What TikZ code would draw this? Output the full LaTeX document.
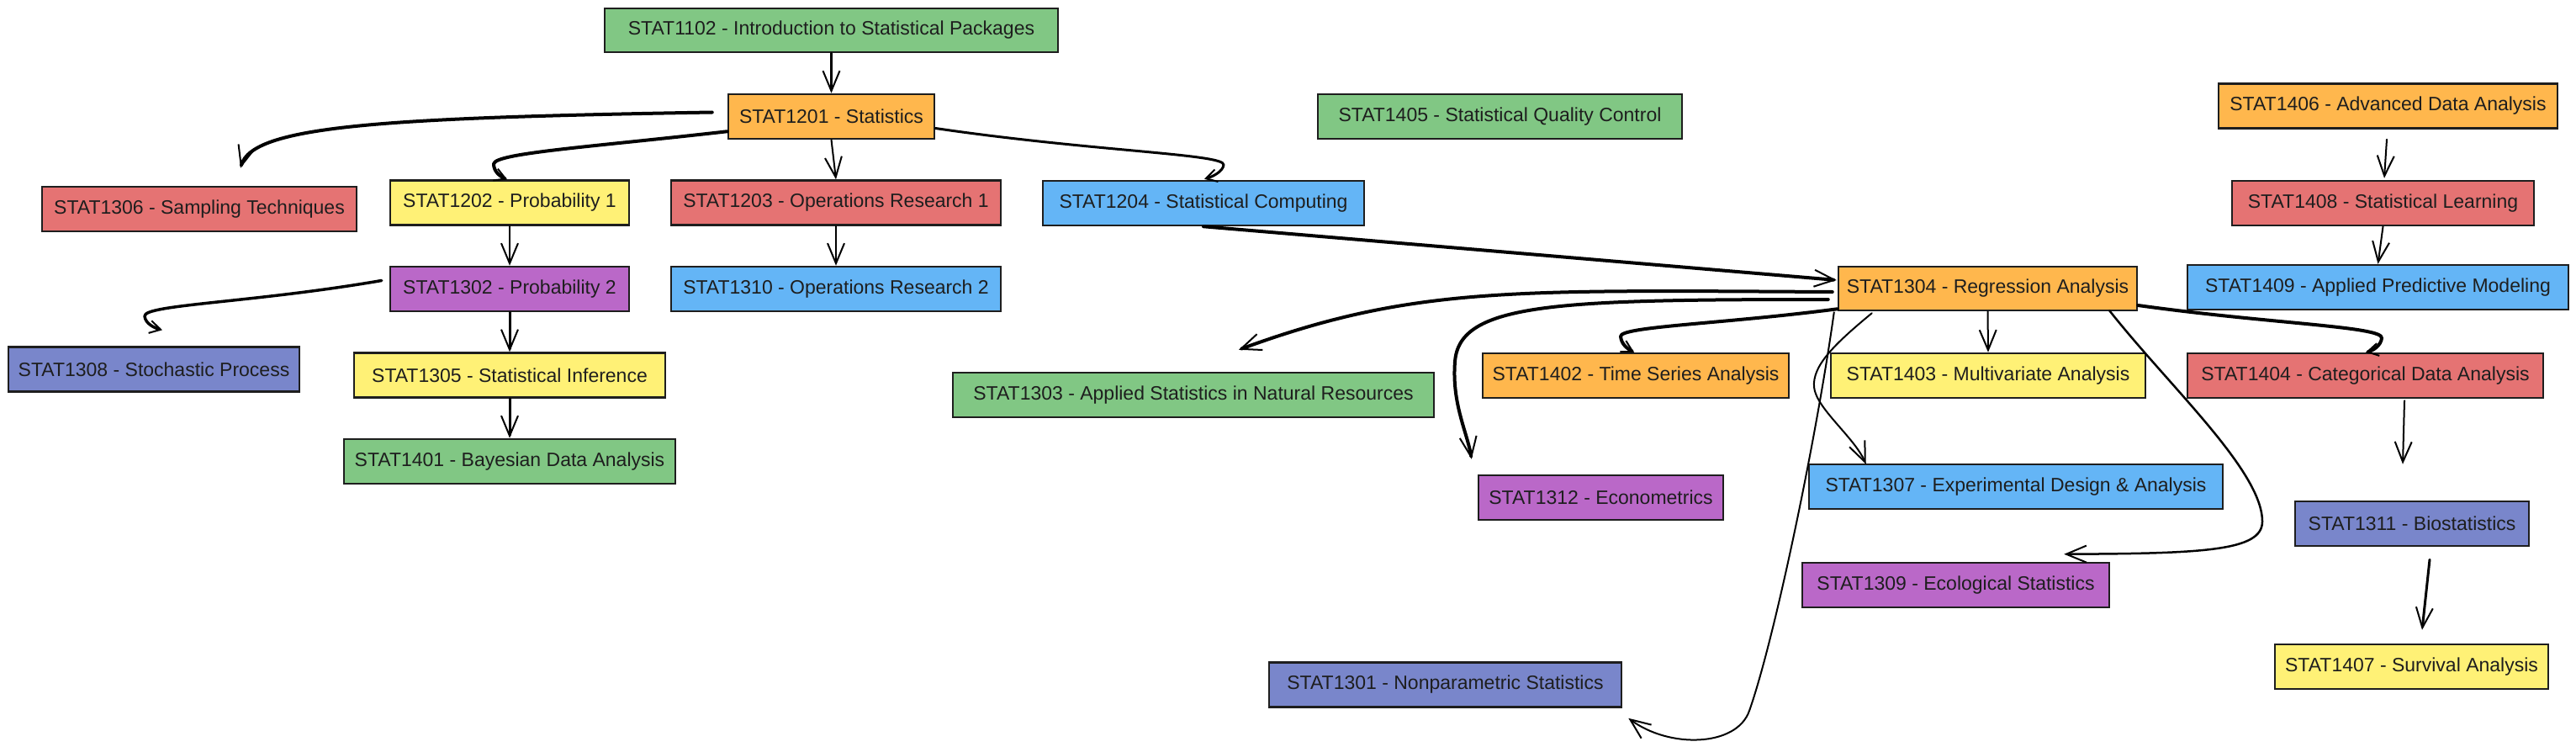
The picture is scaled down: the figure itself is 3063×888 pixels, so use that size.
\documentclass[tikz,border=0pt]{standalone}
\usepackage{fontspec}
\setmainfont{Liberation Sans}
\usetikzlibrary{arrows.meta,calc}
\definecolor{cGreen}{HTML}{81C784}
\definecolor{cOrange}{HTML}{FFB74D}
\definecolor{cRed}{HTML}{E57373}
\definecolor{cYellow}{HTML}{FFF176}
\definecolor{cBlue}{HTML}{64B5F6}
\definecolor{cPurple}{HTML}{BA68C8}
\definecolor{cIndigo}{HTML}{7986CB}
\definecolor{cInk}{HTML}{1E1E1E}
\begin{document}
\begin{tikzpicture}[x=1pt,y=-1pt,
  box/.style={draw=cInk, line width=2.5pt, inner sep=0pt, minimum height=53pt,
    font=\fontsize{23}{27}\selectfont, text=cInk},
  conn/.style={-{Straight Barb[length=24pt,width=20pt,line width'=2pt]}, line width=#1, draw=black, line cap=round, line join=round},
  conn/.default=2pt,
  hook/.style={-{Straight Barb[length=13pt,width=15pt,line width'=2pt]}, line width=#1, draw=black, line cap=round, line join=round},
  hook/.default=4pt]
\useasboundingbox[fill=white] (0,0) rectangle (3063,888);

% nodes
\node[box, fill=cGreen,  minimum width=539pt, minimum height=52pt] (n1102) at (988.5,36)   {STAT1102 - Introduction to Statistical Packages};
\node[box, fill=cOrange, minimum width=245pt] (n1201) at (988.5,138.5) {STAT1201 - Statistics};
\node[box, fill=cRed,    minimum width=374pt] (n1306) at (237,248.5)   {STAT1306 - Sampling Techniques};
\node[box, fill=cYellow, minimum width=284pt] (n1202) at (606,241)     {STAT1202 - Probability 1};
\node[box, fill=cRed,    minimum width=392pt] (n1203) at (994,241)     {STAT1203 - Operations Research 1};
\node[box, fill=cBlue,   minimum width=382pt] (n1204) at (1431,241.5)  {STAT1204 - Statistical Computing};
\node[box, fill=cGreen,  minimum width=433pt] (n1405) at (1783.5,138.5) {STAT1405 - Statistical Quality Control};
\node[box, fill=cOrange, minimum width=403pt] (n1406) at (2839.5,126)  {STAT1406 - Advanced Data Analysis};
\node[box, fill=cRed,    minimum width=359pt] (n1408) at (2833.5,241.5) {STAT1408 - Statistical Learning};
\node[box, fill=cBlue,   minimum width=453pt] (n1409) at (2827.5,341.5) {STAT1409 - Applied Predictive Modeling};
\node[box, fill=cOrange, minimum width=355pt, minimum height=52pt] (n1304) at (2363.5,343) {STAT1304 - Regression Analysis};
\node[box, fill=cPurple, minimum width=284pt] (n1302) at (606,343.5)   {STAT1302 - Probability 2};
\node[box, fill=cBlue,   minimum width=392pt] (n1310) at (994,343.5)   {STAT1310 - Operations Research 2};
\node[box, fill=cIndigo, minimum width=346pt] (n1308) at (183,439)     {STAT1308 - Stochastic Process};
\node[box, fill=cYellow, minimum width=370pt] (n1305) at (606,446)     {STAT1305 - Statistical Inference};
\node[box, fill=cGreen,  minimum width=394pt] (n1401) at (606,548.5)   {STAT1401 - Bayesian Data Analysis};
\node[box, fill=cGreen,  minimum width=572pt] (n1303) at (1419,469.5)  {STAT1303 - Applied Statistics in Natural Resources};
\node[box, fill=cOrange, minimum width=364pt] (n1402) at (1945,446.5)  {STAT1402 - Time Series Analysis};
\node[box, fill=cYellow, minimum width=374pt] (n1403) at (2364,446.5)  {STAT1403 - Multivariate Analysis};
\node[box, fill=cRed,    minimum width=423pt] (n1404) at (2812.5,446.5) {STAT1404 - Categorical Data Analysis};
\node[box, fill=cPurple, minimum width=291pt] (n1312) at (1903.5,591.5) {STAT1312 - Econometrics};
\node[box, fill=cBlue,   minimum width=492pt] (n1307) at (2397,578.5)  {STAT1307 - Experimental Design \& Analysis};
\node[box, fill=cIndigo, minimum width=278pt] (n1311) at (2868,622.5)  {STAT1311 - Biostatistics};
\node[box, fill=cPurple, minimum width=365pt] (n1309) at (2325.5,695.5) {STAT1309 - Ecological Statistics};
\node[box, fill=cIndigo, minimum width=419pt] (n1301) at (1718.5,814)  {STAT1301 - Nonparametric Statistics};
\node[box, fill=cYellow, minimum width=325pt] (n1407) at (2867.5,792.5) {STAT1407 - Survival Analysis};

% connectors
\draw[conn=2.5pt] (n1102.south) -- (n1201.north);
\draw[conn=4pt] ($(n1201.west)+(-18,-5)$) .. controls (450,140) and (300,150) .. ($(n1306.north)+(49,-21)$);
\draw[hook=4pt] ($(n1201.south west)+(0,-10)$) .. controls (700,175) and (588,182) .. (587,195)
   .. controls (587,204) and (595,210) .. ($(n1202.north)+(-3,0)$);
\draw[conn=2pt] (n1201.south) -- (n1203.north);
\draw[hook=3pt] ($(n1201.east)+(0,14)$) .. controls (1300,180) and (1457,183) .. (1455,196)
   .. controls (1454,204) and (1442,210) .. ($(n1204.north)+(1,-1)$);
\draw[conn=2pt] (n1202.south) -- (n1302.north);
\draw[conn=2pt] (n1203.south) -- (n1310.north);
\draw[hook=3.5pt] ($(n1302.west)+(-9,-10)$) .. controls (300,360) and (170,362) .. (172,376)
   .. controls (173,385) and (184,390) .. ($(n1308.north)+(10,-19)$);
\draw[conn=3pt] (n1302.south) -- (n1305.north);
\draw[conn=3pt] (n1305.south) -- (n1401.north);
\draw[conn=4pt] (n1204.south) -- ($(n1304.west)+(-1,-10)$);
\draw[conn=4pt] ($(n1304.west)+(-6,4)$) .. controls (1800,345) and (1680,340) .. ($(n1303.north)+(54,-26)$);
\draw[conn=4pt] ($(n1304.west)+(-11,13)$) .. controls (1850,356) and (1735,360) .. (1730,430)
   .. controls (1726,480) and (1745,515) .. ($(n1312.north west)+(-7,-18)$);
\draw[hook=4pt] ($(n1304.south west)+(0,-3)$) .. controls (2050,385) and (1926,388) .. (1927,400)
   .. controls (1928,410) and (1936,415) .. ($(n1402.north)+(-2,0)$);
\draw[conn=2pt] (n1304.south) -- (n1403.north);
\draw[hook=4pt] ($(n1304.east)+(0,20)$) .. controls (2700,385) and (2834,388) .. (2832,402)
   .. controls (2831,411) and (2821,417) .. ($(n1404.north)+(0.5,0)$);
\draw[conn=2pt] ($(n1304.south west)+(41,2)$) .. controls (2180,410) and (2155,435) .. (2157,460)
   .. controls (2159,485) and (2205,520) .. ($(n1307.north west)+(69,1)$);
\draw[conn=2pt] ($(n1304.south west)+(-4,1)$) .. controls (2160,520) and (2110,760) .. (2080,845)
   .. controls (2065,888) and (1985,890) .. ($(n1301.south east)+(7,12)$);
\draw[conn=2.5pt] ($(n1304.south east)+(-34,-1)$) .. controls (2580,460) and (2690,560) .. (2690,620)
   .. controls (2690,655) and (2620,658) .. ($(n1309.north east)+(-55,-9)$);
\draw[conn=2pt] ($(n1404.south)+(46.5,2)$) -- ($(n1311.north)+(-11,-43)$);
\draw[conn=3pt] ($(n1311.south)+(21,15)$) -- ($(n1407.north)+(12.5,-16)$);
\draw[conn=2pt] ($(n1406.south)+(-1.5,12)$) -- ($(n1408.north)+(1.5,-2)$);
\draw[conn=2pt] (n1408.south) -- (n1409.north);
\end{tikzpicture}
\end{document}
